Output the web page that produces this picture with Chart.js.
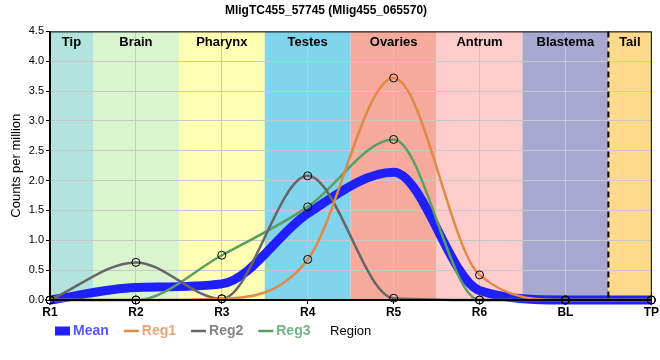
<!DOCTYPE html>
<html>
<head>
<meta charset="utf-8">
<script src="https://cdn.jsdelivr.net/npm/chart.js@4.4.1/dist/chart.umd.min.js"></script>
<style>
  body { margin: 0; background: #fff; }
  #wrap { width: 660px; height: 360px; }
</style>
</head>
<body>
<div id="wrap"><canvas id="chart" width="660" height="360"></canvas></div>
<script>
// categories and values
var regions = ['R1', 'R2', 'R3', 'R4', 'R5', 'R6', 'BL', 'TP'];
var bandNames = ['Tip', 'Brain', 'Pharynx', 'Testes', 'Ovaries', 'Antrum', 'Blastema', 'Tail'];
var meanVals = [0, 0.21, 0.27, 1.45, 2.14, 0.16, 0, 0];
var reg1Vals = [0, 0, 0.02, 0.68, 3.72, 0.42, 0, 0];
var reg2Vals = [0, 0.63, 0.02, 2.08, 0.03, 0, 0, 0];
var reg3Vals = [0, 0, 0.75, 1.56, 2.69, 0, 0, 0];
var yTicks = [0, 0.5, 1, 1.5, 2, 2.5, 3, 3.5, 4, 4.5];

const bandColors = ['#b3e3dd', '#d8f5d0', '#ffffb4', '#80d4ec', '#f5aa9b', '#ffcccc', '#a8a8d0', '#ffda8c'];
const FONT = "'Liberation Sans', Arial, sans-serif";

// coloured region bands behind the grid
const bandsPlugin = {
  id: 'bands',
  beforeDraw(chart) {
    const ctx = chart.ctx, x = chart.scales.x, a = chart.chartArea;
    ctx.save();
    for (var i = 0; i < bandNames.length; i++) {
      var l = Math.max(a.left, x.getPixelForValue(i - 0.5));
      var r = Math.min(a.right, x.getPixelForValue(i + 0.5));
      ctx.fillStyle = bandColors[i];
      ctx.fillRect(l, a.top, r - l, a.bottom - a.top);
    }
    ctx.restore();
  },
  afterDatasetsDraw(chart) {
    const ctx = chart.ctx, x = chart.scales.x, a = chart.chartArea;
    ctx.save();
    ctx.font = 'bold 13px ' + FONT;
    ctx.fillStyle = '#000';
    ctx.textAlign = 'center';
    ctx.textBaseline = 'middle';
    for (var i = 0; i < bandNames.length; i++) {
      var l = Math.max(a.left, x.getPixelForValue(i - 0.5));
      var r = Math.min(a.right, x.getPixelForValue(i + 0.5));
      ctx.fillText(bandNames[i], (l + r) / 2, a.top + 11);
    }
    // dashed divider before the tail
    var dx = x.getPixelForValue(bandNames.length - 1.5);
    ctx.strokeStyle = '#000';
    ctx.lineWidth = 2;
    ctx.setLineDash([6, 4]);
    ctx.beginPath();
    ctx.moveTo(dx, a.top);
    ctx.lineTo(dx, a.bottom);
    ctx.stroke();
    ctx.setLineDash([]);
    // frame
    ctx.lineWidth = 1;
    ctx.strokeRect(a.left, a.top + 0.5, a.right - a.left, a.bottom - a.top);
    ctx.lineWidth = 2;
    ctx.beginPath();
    ctx.moveTo(a.left, a.top);
    ctx.lineTo(a.left, a.bottom);
    ctx.lineTo(a.right, a.bottom);
    ctx.stroke();
    ctx.restore();
  }
};

// legend sits on the same row as the axis title
const legendPlugin = {
  id: 'rowLegend',
  afterDraw(chart) {
    const ctx = chart.ctx;
    const y = 331;
    var px = 55;
    ctx.save();
    ctx.font = 'bold 14px ' + FONT;
    ctx.textBaseline = 'middle';
    ctx.textAlign = 'left';
    chart.data.datasets.forEach(function (ds) {
      ctx.strokeStyle = ds.borderColor;
      ctx.lineWidth = ds.label == 'Mean' ? 9 : 2.5;
      ctx.beginPath();
      ctx.moveTo(px, y);
      ctx.lineTo(px + 15, y);
      ctx.stroke();
      ctx.fillStyle = ds.legendText;
      ctx.fillText(ds.label, px + 18, y);
      px += 18 + ctx.measureText(ds.label).width + 15;
    });
    ctx.restore();
  }
};

new Chart(document.getElementById('chart'), {
  type: 'line',
  data: {
    labels: regions,
    datasets: [
      { label: 'Mean', data: meanVals, borderColor: '#1f1fff', legendText: '#5555ff', borderWidth: 9, pointRadius: 0, order: 5 },
      { label: 'Reg1', data: reg1Vals, borderColor: '#e08a45', legendText: '#eaa478', borderWidth: 2.5, order: 1 },
      { label: 'Reg2', data: reg2Vals, borderColor: '#666666', legendText: '#858585', borderWidth: 2.5, order: 2 },
      { label: 'Reg3', data: reg3Vals, borderColor: '#5a9e62', legendText: '#72b486', borderWidth: 2.5, order: 3 }
    ].map(function (d) {
      return Object.assign({
        cubicInterpolationMode: 'monotone',
        fill: false,
        pointRadius: 4,
        pointBorderColor: '#000',
        pointBorderWidth: 1,
        pointBackgroundColor: 'rgba(0,0,0,0)',
        clip: 6
      }, d);
    })
  },
  options: {
    responsive: false,
    animation: false,
    layout: { padding: { left: 0, right: 8, top: 0, bottom: 0 } },
    plugins: {
      legend: { display: false },
      tooltip: { enabled: false },
      title: {
        display: true,
        text: 'MligTC455_57745 (Mlig455_065570)',
        color: '#000',
        font: { family: FONT, size: 12, weight: 'bold' },
        padding: { top: 3, bottom: 14 }
      }
    },
    scales: {
      x: {
        offset: false,
        grid: { color: '#c8c8c8', tickColor: '#000', tickLength: 4 },
        border: { display: false },
        ticks: { color: '#000', font: { family: FONT, size: 12, weight: 'bold' }, padding: 1, maxRotation: 0 },
        afterFit: function (s) { s.height = 60; }
      },
      y: {
        min: 0,
        max: 4.5,
        afterBuildTicks: function (s) { s.ticks = yTicks.map(function (v) { return { value: v }; }); },
        grid: { color: '#c8c8c8', tickColor: '#000', tickLength: 4 },
        border: { display: false },
        ticks: { color: '#000', font: { family: FONT, size: 11 }, padding: 2, callback: function (v) { return v.toFixed(1); } },
        title: { display: true, text: 'Counts per million', color: '#000', font: { family: FONT, size: 13 }, padding: { top: 9, bottom: 0 } },
        afterFit: function (s) { s.width = 50; }
      }
    }
  },
  plugins: [bandsPlugin, legendPlugin, {
    id: 'xTitle',
    afterDraw(chart) {
      const ctx = chart.ctx, a = chart.chartArea;
      ctx.save();
      ctx.font = '13px ' + FONT;
      ctx.fillStyle = '#000';
      ctx.textAlign = 'center';
      ctx.textBaseline = 'middle';
      ctx.fillText('Region', (a.left + a.right) / 2, 331);
      ctx.restore();
    }
  }]
});
</script>
</body>
</html>
